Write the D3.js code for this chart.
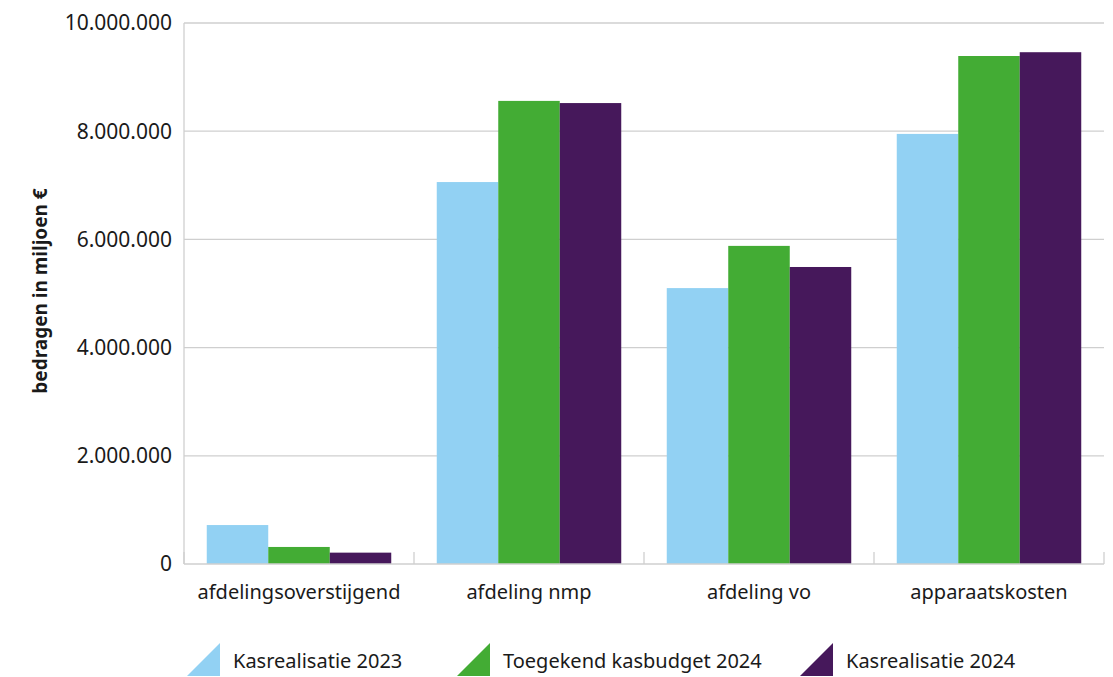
<!DOCTYPE html>
<html>
<head>
<meta charset="utf-8">
<script src="https://cdn.jsdelivr.net/npm/d3@7"></script>
<style>
  body { margin: 0; background: #fff; }
  text { font-family: "Noto Sans", "Open Sans", sans-serif; fill: #1a1a1a; }
</style>
</head>
<body>
<div id="canvas"></div>
<script>
"use strict"

/* chart data */
let categories = ["afdelingsoverstijgend", "afdeling nmp", "afdeling vo", "apparaatskosten"];
let seriesNames = ["Kasrealisatie 2023", "Toegekend kasbudget 2024", "Kasrealisatie 2024"];
let kas2023 = [720000, 7060000, 5100000, 7950000];
let budget2024 = [315000, 8560000, 5880000, 9390000];
let kas2024 = [210000, 8520000, 5490000, 9460000];
let yTicks = [0, 2000000, 4000000, 6000000, 8000000, 10000000];
let colors = ["#92d1f3", "#43ac34", "#46185b"];

let seriesValues = [kas2023, budget2024, kas2024];

let drawing = d3.select("#canvas")
    .append("svg")
    .attr("width", 1113)
    .attr("height", 677);

let plotLeft = 184, plotRight = 1104, plotTop = 23, plotBottom = 564;

let x0 = d3.scaleBand()
    .domain(categories)
    .range([plotLeft, plotRight])
    .padding(0);

let x1 = d3.scaleBand()
    .domain(seriesNames)
    .range([0, x0.bandwidth()])
    .paddingInner(0)
    .paddingOuter(0.37);

let y = d3.scaleLinear()
    .domain([0, 10000000])
    .range([plotBottom, plotTop]);

let fmt = d => d3.format(",")(d).replace(/,/g, ".");

/* gridlines */
drawing.append("g")
    .selectAll("line")
    .data(yTicks.slice(1))
    .join("line")
    .attr("x1", plotLeft)
    .attr("x2", plotRight)
    .attr("y1", d => y(d))
    .attr("y2", d => y(d))
    .attr("stroke", "#cfcfcf")
    .attr("stroke-width", 1.3);

/* bars */
let groups = drawing.append("g")
    .selectAll("g")
    .data(categories)
    .join("g")
    .attr("transform", d => "translate(" + x0(d) + ",0)");

groups.selectAll("rect")
    .data((c, i) => seriesNames.map((s, j) => ({ s: s, v: seriesValues[j][i], j: j })))
    .join("rect")
    .attr("x", d => x1(d.s))
    .attr("width", x1.bandwidth())
    .attr("y", d => y(d.v))
    .attr("height", d => y(0) - y(d.v))
    .attr("fill", d => colors[d.j]);

/* y axis line */
drawing.append("line")
    .attr("x1", plotLeft).attr("x2", plotLeft)
    .attr("y1", plotTop).attr("y2", plotBottom)
    .attr("stroke", "#cfcfcf")
    .attr("stroke-width", 1.3);

/* x axis baseline and category ticks */
drawing.append("line")
    .attr("x1", plotLeft).attr("x2", plotRight)
    .attr("y1", plotBottom).attr("y2", plotBottom)
    .attr("stroke", "#cfcfcf")
    .attr("stroke-width", 1.3);

let bounds = categories.map(c => x0(c)).concat([plotRight]);
drawing.append("g")
    .selectAll("line")
    .data(bounds)
    .join("line")
    .attr("x1", d => d).attr("x2", d => d)
    .attr("y1", plotBottom - 12).attr("y2", plotBottom)
    .attr("stroke", "#cfcfcf")
    .attr("stroke-width", 1.3);

/* y tick labels */
drawing.append("g")
    .selectAll("text")
    .data(yTicks)
    .join("text")
    .attr("x", 172)
    .attr("y", d => y(d))
    .attr("dy", "0.35em")
    .attr("text-anchor", "end")
    .attr("font-size", 21)
    .text(d => fmt(d));

/* category labels */
drawing.append("g")
    .selectAll("text")
    .data(categories)
    .join("text")
    .attr("x", d => x0(d) + x0.bandwidth() / 2)
    .attr("y", 599)
    .attr("text-anchor", "middle")
    .attr("font-size", 20)
    .text(d => d);

/* axis title */
drawing.append("text")
    .attr("transform", "translate(47,291) rotate(-90)")
    .attr("text-anchor", "middle")
    .attr("font-size", 19)
    .attr("font-weight", "bold")
    .text("bedragen in miljoen €");

/* legend */
let legendX = [187, 457, 800];
let legend = drawing.append("g")
    .selectAll("g")
    .data(seriesNames)
    .join("g")
    .attr("transform", (d, i) => "translate(" + legendX[i] + ",643)");

legend.append("path")
    .attr("d", "M0,33 L33,0 L33,33 Z")
    .attr("fill", (d, i) => colors[i]);

legend.append("text")
    .attr("x", 46)
    .attr("y", 25)
    .attr("font-size", 20)
    .text(d => d);
</script>
</body>
</html>
